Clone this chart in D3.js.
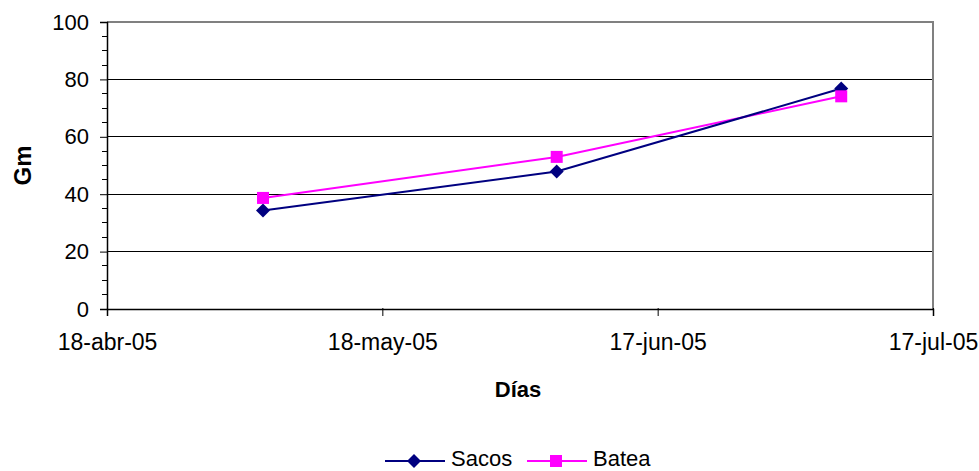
<!DOCTYPE html>
<html><head><meta charset="utf-8">
<script src="https://cdn.jsdelivr.net/npm/d3@7"></script>
<style>body{margin:0;background:#fff;} text{font-family:"Liberation Sans",Arial,sans-serif;}</style>
</head><body>
<svg id="c" width="979" height="471"></svg>
<script>
const dates = ["2005-05-05","2005-06-06","2005-07-07"];
const sacos = [34.3, 47.9, 76.8];
const batea = [38.7, 53.0, 74.1];
const xTickLabels = ["18-abr-05","18-may-05","17-jun-05","17-jul-05"];
const xTickDates = ["2005-04-18","2005-05-18","2005-06-17","2005-07-17"];
const yTicks = [0,20,40,60,80,100];

const parse = d3.timeParse("%Y-%m-%d");
const svg = d3.select("#c");
const L=107, R=933, T=22, B=309;
const x = d3.scaleTime().domain([parse(xTickDates[0]), parse(xTickDates[3])]).range([L,R]);
const y = d3.scaleLinear().domain([0,100]).range([B,T]);

// gridlines
svg.append("g").selectAll("line").data(yTicks.filter(v=>v>0&&v<100)).join("line")
  .attr("x1",L).attr("x2",R).attr("y1",d=>y(d)).attr("y2",d=>y(d))
  .attr("stroke","#000").attr("stroke-width",1).attr("shape-rendering","crispEdges");
// plot border top/right
svg.append("path").attr("d",`M${L},${T}H${R}V${B}`).attr("fill","none")
  .attr("stroke","#808080").attr("stroke-width",2).attr("shape-rendering","crispEdges");

// y axis
const yAxis = d3.axisLeft(y).tickValues(yTicks).tickSize(7).tickPadding(11);
const gy = svg.append("g").attr("transform",`translate(${L},0)`).call(yAxis);
gy.select(".domain").attr("stroke","#000").attr("stroke-width",1.5);
gy.selectAll("text").attr("font-size",22).attr("fill","#000").attr("font-family","Liberation Sans, Arial, sans-serif");
// minor ticks
const minor = d3.range(0,101,5).filter(v=>v%20!==0);
svg.append("g").selectAll("line").data(minor).join("line")
  .attr("x1",L-5).attr("x2",L).attr("y1",d=>y(d)).attr("y2",d=>y(d))
  .attr("stroke","#000").attr("stroke-width",1).attr("shape-rendering","crispEdges");

// x axis
const xAxis = d3.axisBottom(x).tickValues(xTickDates.map(parse)).tickSize(7).tickPadding(18)
  .tickFormat((d,i)=>xTickLabels[i]);
const gx = svg.append("g").attr("transform",`translate(0,${B})`).call(xAxis);
gx.select(".domain").attr("stroke","#000").attr("stroke-width",1.5);
gx.selectAll(".tick line").attr("y1",-1);
gx.selectAll(".tick text").attr("font-size",23).attr("fill","#000").attr("font-family","Liberation Sans, Arial, sans-serif");

// titles
svg.append("text").attr("x",518).attr("y",397).attr("text-anchor","middle")
  .attr("font-size",22).attr("font-weight","bold").text("Días");
svg.append("text").attr("transform",`translate(31,${(T+B)/2}) rotate(-90)`).attr("text-anchor","middle")
  .attr("font-size",24).attr("font-weight","bold").text("Gm");

// lines
const line = d3.line().x(d=>x(d[0])).y(d=>y(d[1]));
const sData = dates.map((d,i)=>[parse(d),sacos[i]]);
const bData = dates.map((d,i)=>[parse(d),batea[i]]);
svg.append("path").datum(bData).attr("d",line).attr("fill","none").attr("stroke","#FF00FF").attr("stroke-width",2);
svg.append("path").datum(sData).attr("d",line).attr("fill","none").attr("stroke","#000080").attr("stroke-width",2);

const diamond = (cx,cy,r)=>`M${cx},${cy-r}L${cx+r},${cy}L${cx},${cy+r}L${cx-r},${cy}Z`;
svg.append("g").selectAll("path").data(sData).join("path")
  .attr("d",d=>diamond(x(d[0]),y(d[1]),7)).attr("fill","#000080");
svg.append("g").selectAll("rect").data(bData).join("rect")
  .attr("x",d=>x(d[0])-6).attr("y",d=>y(d[1])-6).attr("width",12).attr("height",12).attr("fill","#FF00FF");

// legend
const lg = svg.append("g");
lg.append("line").attr("x1",385).attr("x2",445).attr("y1",461).attr("y2",461).attr("stroke","#000080").attr("stroke-width",2);
lg.append("path").attr("d",diamond(414,461,7)).attr("fill","#000080");
lg.append("text").attr("x",451).attr("y",466).attr("font-size",22).text("Sacos");
lg.append("line").attr("x1",527).attr("x2",587).attr("y1",461).attr("y2",461).attr("stroke","#FF00FF").attr("stroke-width",2);
lg.append("rect").attr("x",550).attr("y",455).attr("width",12).attr("height",12).attr("fill","#FF00FF");
lg.append("text").attr("x",593).attr("y",466).attr("font-size",22).text("Batea");
</script>
</body></html>
